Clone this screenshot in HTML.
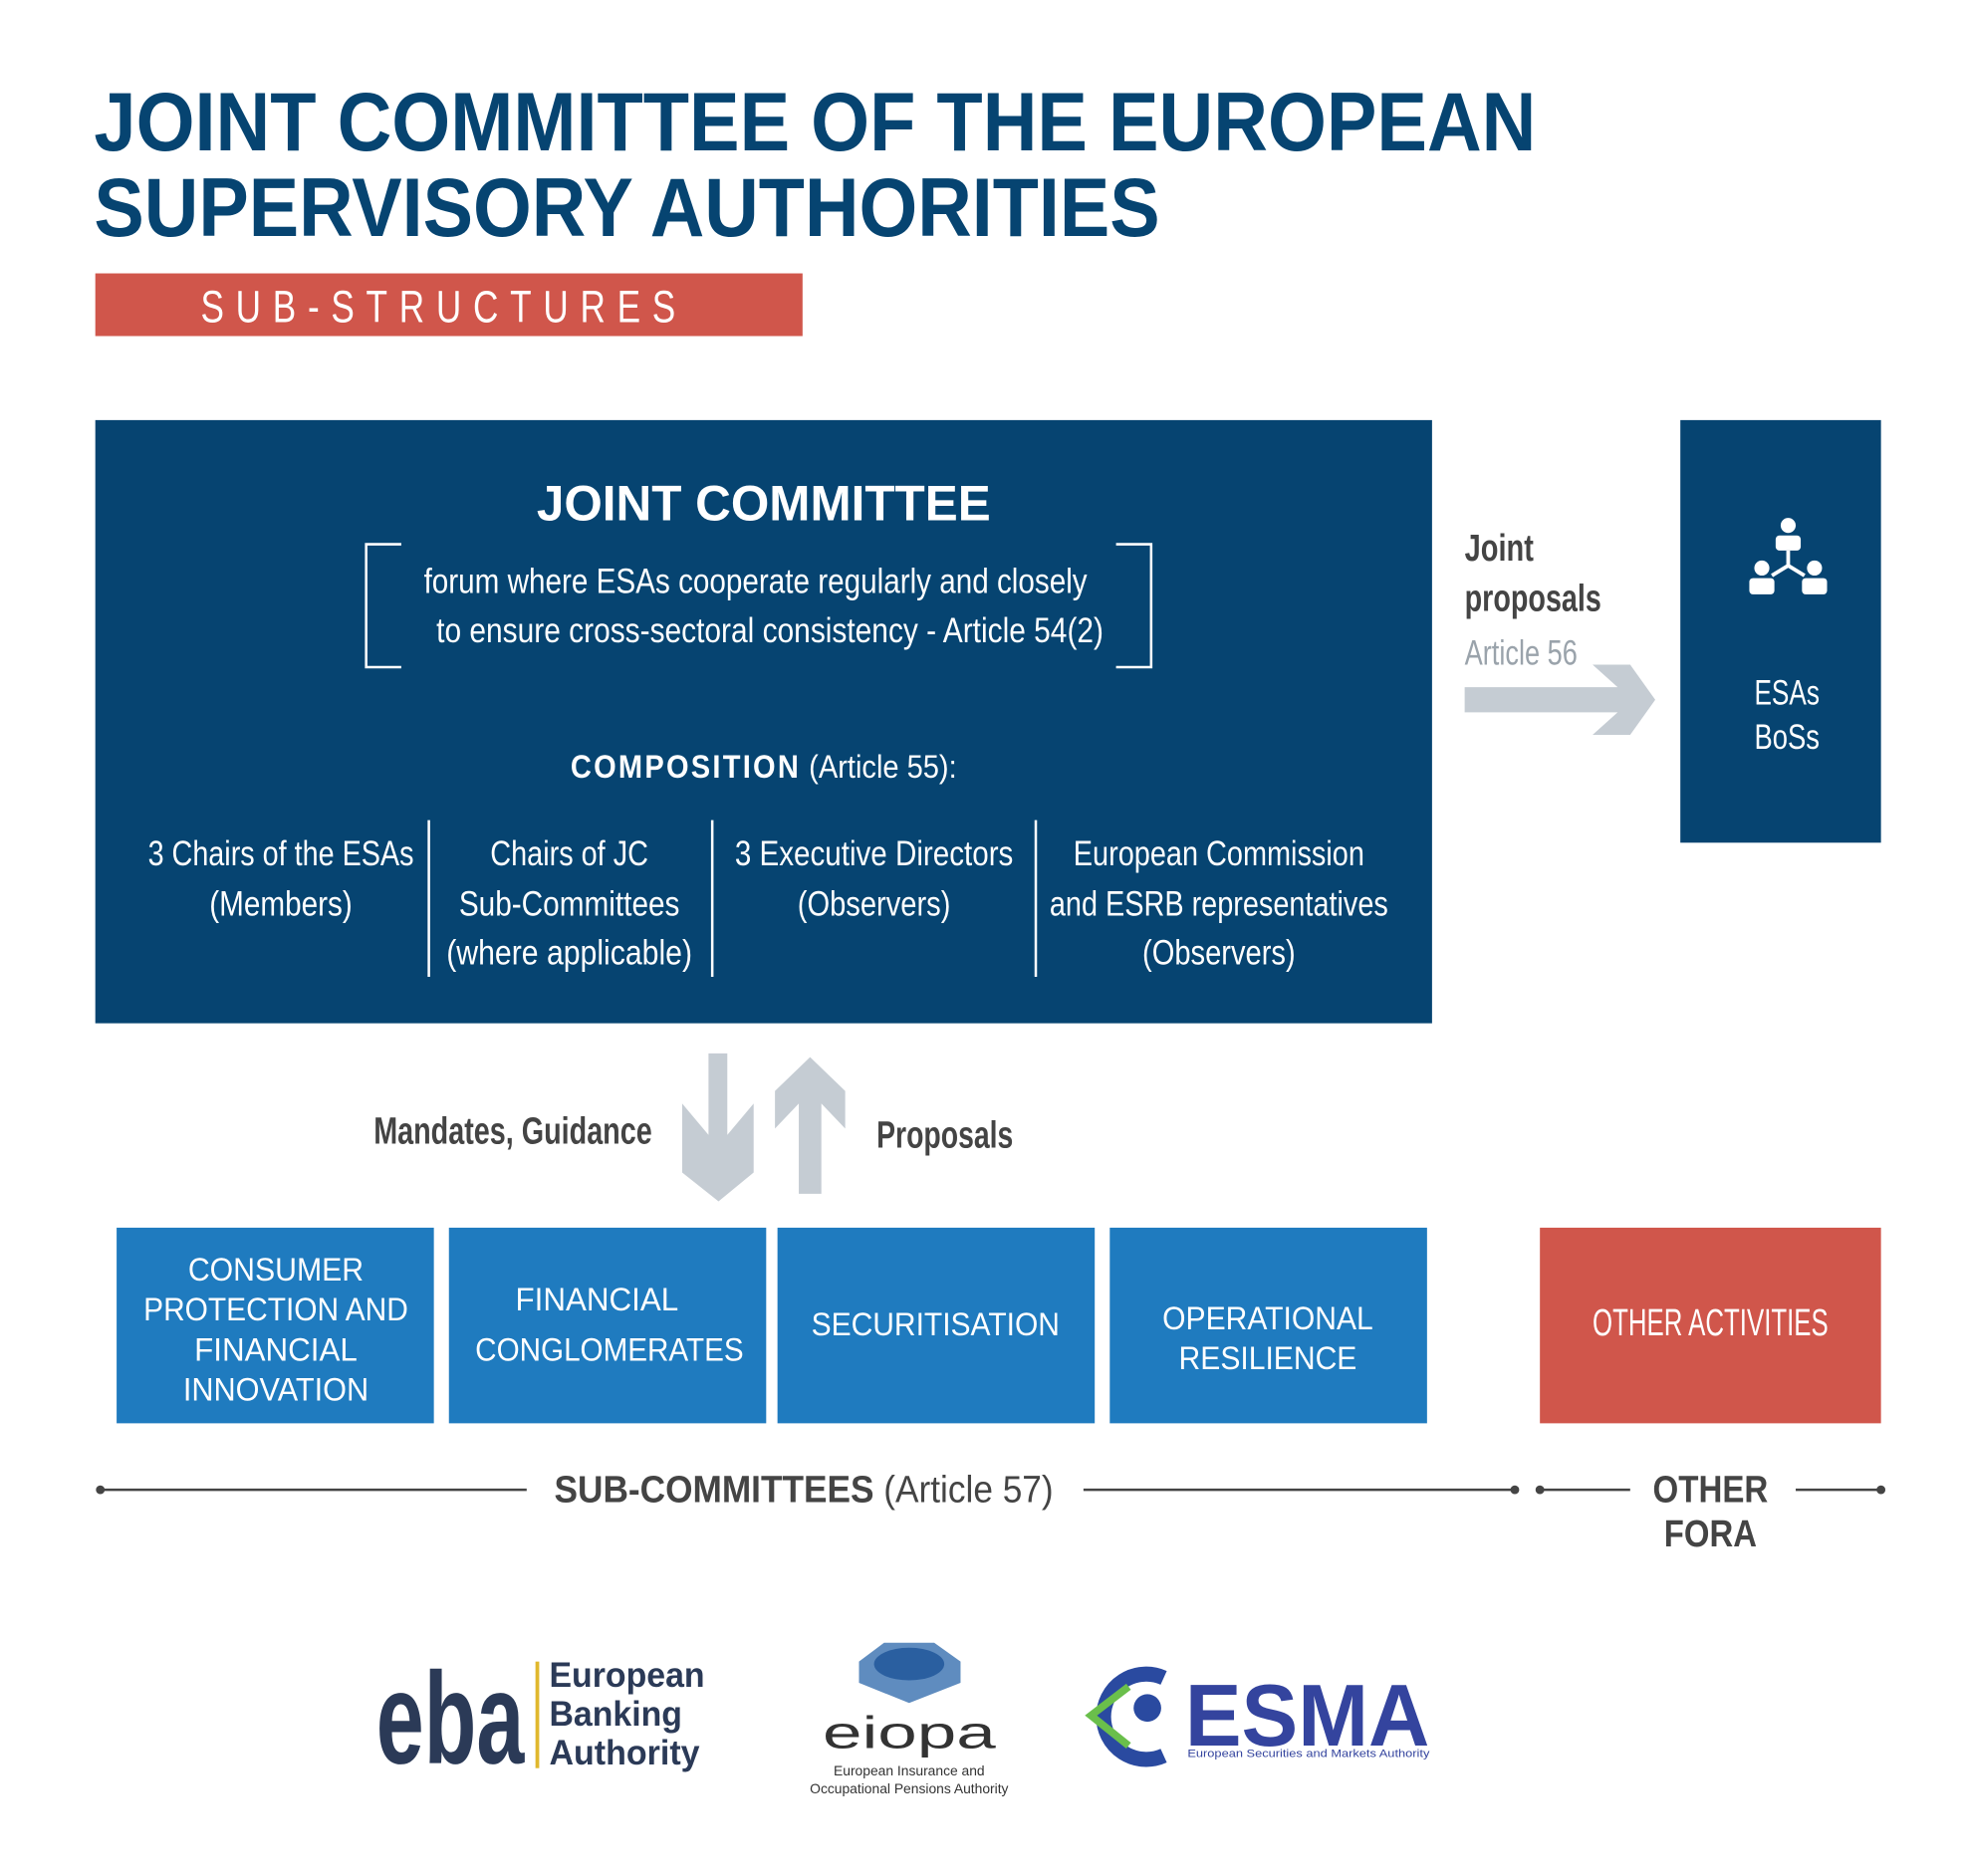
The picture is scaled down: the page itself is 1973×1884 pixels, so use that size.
<!DOCTYPE html>
<html><head><meta charset="utf-8"><style>
html,body{margin:0;padding:0;background:#fff;}
svg{display:block;}
text{font-family:"Liberation Sans Narrow","Liberation Sans",sans-serif;}
</style></head><body>
<svg width="1973" height="1884" viewBox="0 0 1567 1496" preserveAspectRatio="none" xmlns="http://www.w3.org/2000/svg">
<rect width="1567" height="1496" fill="#fff"/>
<g fill="#064471" font-weight="bold" font-size="66">
<text x="75" y="120" textLength="1150" lengthAdjust="spacingAndGlyphs">JOINT COMMITTEE OF THE EUROPEAN</text>
<text x="75" y="188" textLength="850" lengthAdjust="spacingAndGlyphs">SUPERVISORY AUTHORITIES</text>
</g>
<rect x="76" y="218" width="564" height="50" fill="#d0564b"/>
<text x="160" y="257" fill="#fff" font-size="36" textLength="388" lengthAdjust="spacingAndGlyphs" letter-spacing="12">SUB-STRUCTURES</text>

<rect x="76" y="335" width="1066" height="481" fill="#064471"/>
<g fill="#fff">
<text x="609" y="415" font-size="40" font-weight="bold" text-anchor="middle" textLength="362" lengthAdjust="spacingAndGlyphs">JOINT COMMITTEE</text>
<text x="338" y="473" font-size="28" textLength="529" lengthAdjust="spacingAndGlyphs">forum where ESAs cooperate regularly and closely</text>
<text x="348" y="512" font-size="28" textLength="532" lengthAdjust="spacingAndGlyphs">to ensure cross-sectoral consistency - Article 54(2)</text>
<text x="455" y="620" font-size="26" textLength="308" lengthAdjust="spacingAndGlyphs"><tspan font-weight="bold" letter-spacing="2">COMPOSITION</tspan> (Article 55):</text>
<g font-size="28" text-anchor="middle">
<text x="224" y="690" textLength="212" lengthAdjust="spacingAndGlyphs">3 Chairs of the ESAs</text>
<text x="224" y="730" textLength="114" lengthAdjust="spacingAndGlyphs">(Members)</text>
<text x="454" y="690" textLength="126" lengthAdjust="spacingAndGlyphs">Chairs of JC</text>
<text x="454" y="730" textLength="176" lengthAdjust="spacingAndGlyphs">Sub-Committees</text>
<text x="454" y="769" textLength="196" lengthAdjust="spacingAndGlyphs">(where applicable)</text>
<text x="697" y="690" textLength="222" lengthAdjust="spacingAndGlyphs">3 Executive Directors</text>
<text x="697" y="730" textLength="122" lengthAdjust="spacingAndGlyphs">(Observers)</text>
<text x="972" y="690" textLength="232" lengthAdjust="spacingAndGlyphs">European Commission</text>
<text x="972" y="730" textLength="270" lengthAdjust="spacingAndGlyphs">and ESRB representatives</text>
<text x="972" y="769" textLength="122" lengthAdjust="spacingAndGlyphs">(Observers)</text>
</g>
</g>
<g stroke="#fff" stroke-width="2" fill="none">
<path d="M320 434H292V532H320"/>
<path d="M890 434H918V532H890"/>
<line x1="342" y1="654" x2="342" y2="779"/>
<line x1="568" y1="654" x2="568" y2="779"/>
<line x1="826" y1="654" x2="826" y2="779"/>
</g>

<g fill="#444" font-weight="bold" font-size="30">
<text x="1168" y="447" textLength="55" lengthAdjust="spacingAndGlyphs">Joint</text>
<text x="1168" y="487" textLength="109" lengthAdjust="spacingAndGlyphs">proposals</text>
</g>
<text x="1168" y="530" fill="#9aa3ab" font-size="28" textLength="90" lengthAdjust="spacingAndGlyphs">Article 56</text>
<polygon points="1168,548 1290,548 1270,530 1300,530 1320,558 1300,586 1270,586 1290,568 1168,568" fill="#c5ccd3"/>
<rect x="1340" y="335" width="160" height="337" fill="#064471"/>
<g fill="#fff">
<circle cx="1426" cy="419" r="6"/><rect x="1416" y="427" width="20" height="12" rx="3"/>
<circle cx="1405" cy="453" r="6"/><rect x="1395" y="461" width="20" height="13" rx="3"/>
<circle cx="1447" cy="453" r="6"/><rect x="1437" y="461" width="20" height="13" rx="3"/>
<path d="M1426 439V451M1426 451L1413 459M1426 451L1439 459" stroke="#fff" stroke-width="3" fill="none"/>
<text x="1425" y="562" font-size="28" text-anchor="middle" textLength="52" lengthAdjust="spacingAndGlyphs">ESAs</text>
<text x="1425" y="597" font-size="28" text-anchor="middle" textLength="52" lengthAdjust="spacingAndGlyphs">BoSs</text>
</g>

<polygon points="565,840 580,840 580,905 601,880 601,935 573,958 544,935 544,880 565,905" fill="#c5ccd3"/>
<polygon points="637,952 655,952 655,880 674,900 674,870 646,843 618,870 618,900 637,880" fill="#c5ccd3"/>
<g fill="#444" font-weight="bold" font-size="30">
<text x="520" y="912" text-anchor="end" textLength="222" lengthAdjust="spacingAndGlyphs">Mandates, Guidance</text>
<text x="699" y="915" textLength="109" lengthAdjust="spacingAndGlyphs">Proposals</text>
</g>

<g fill="#1f7bbf">
<rect x="93" y="979" width="253" height="156"/>
<rect x="358" y="979" width="253" height="156"/>
<rect x="620" y="979" width="253" height="156"/>
<rect x="885" y="979" width="253" height="156"/>
</g>
<rect x="1228" y="979" width="272" height="156" fill="#d0564b"/>
<g fill="#fff" font-size="26" text-anchor="middle">
<text x="220" y="1021" textLength="140" lengthAdjust="spacingAndGlyphs">CONSUMER</text>
<text x="220" y="1053" textLength="211" lengthAdjust="spacingAndGlyphs">PROTECTION AND</text>
<text x="220" y="1085" textLength="130" lengthAdjust="spacingAndGlyphs">FINANCIAL</text>
<text x="220" y="1117" textLength="148" lengthAdjust="spacingAndGlyphs">INNOVATION</text>
<text x="476" y="1045" textLength="130" lengthAdjust="spacingAndGlyphs">FINANCIAL</text>
<text x="486" y="1085" textLength="214" lengthAdjust="spacingAndGlyphs">CONGLOMERATES</text>
<text x="746" y="1065" textLength="198" lengthAdjust="spacingAndGlyphs">SECURITISATION</text>
<text x="1011" y="1060" textLength="168" lengthAdjust="spacingAndGlyphs">OPERATIONAL</text>
<text x="1011" y="1092" textLength="142" lengthAdjust="spacingAndGlyphs">RESILIENCE</text>
<text x="1364" y="1065" font-size="30" textLength="188" lengthAdjust="spacingAndGlyphs">OTHER ACTIVITIES</text>
</g>

<g stroke="#444" stroke-width="2">
<line x1="80" y1="1188" x2="420" y2="1188"/>
<line x1="864" y1="1188" x2="1208" y2="1188"/>
<line x1="1228" y1="1188" x2="1300" y2="1188"/>
<line x1="1432" y1="1188" x2="1500" y2="1188"/>
</g>
<g fill="#444"><circle cx="80" cy="1188" r="3.5"/><circle cx="1208" cy="1188" r="3.5"/><circle cx="1228" cy="1188" r="3.5"/><circle cx="1500" cy="1188" r="3.5"/></g>
<text x="442" y="1198" fill="#444" font-size="30" textLength="398" lengthAdjust="spacingAndGlyphs"><tspan font-weight="bold">SUB-COMMITTEES</tspan> (Article 57)</text>
<g fill="#444" font-weight="bold" font-size="30" text-anchor="middle">
<text x="1364" y="1198" textLength="92" lengthAdjust="spacingAndGlyphs">OTHER</text>
<text x="1364" y="1233" textLength="74" lengthAdjust="spacingAndGlyphs">FORA</text>
</g>

<text x="300" y="1406" fill="#2b3a57" font-size="104" font-weight="bold" textLength="118" lengthAdjust="spacingAndGlyphs">eba</text>
<rect x="427" y="1325" width="3" height="85" fill="#e0b82d"/>
<g fill="#2b3a57" font-size="28" font-weight="bold">
<text x="438" y="1345" textLength="124" lengthAdjust="spacingAndGlyphs">European</text>
<text x="438" y="1376" textLength="106" lengthAdjust="spacingAndGlyphs">Banking</text>
<text x="438" y="1407" textLength="120" lengthAdjust="spacingAndGlyphs">Authority</text>
</g>
<polygon points="685,1325 705,1310 745,1310 766,1325 766,1342 725,1358 685,1342" fill="#5f8cbf"/>
<ellipse cx="725" cy="1327" rx="28" ry="13" fill="#2a5fa0"/>
<text x="725" y="1394" fill="#333" font-size="36" text-anchor="middle" textLength="138" lengthAdjust="spacingAndGlyphs">eiopa</text>
<g fill="#333" font-size="11" text-anchor="middle">
<text x="725" y="1416">European Insurance and</text>
<text x="725" y="1430">Occupational Pensions Authority</text>
</g>
<path d="M928 1338 A34 34 0 1 0 928 1400" stroke="#2a4aa0" stroke-width="12" fill="none"/>
<path d="M900 1345 L870 1368 L900 1392" stroke="#6abf4b" stroke-width="6" fill="none"/>
<circle cx="915" cy="1362" r="11" fill="#2a4aa0"/>
<text x="945" y="1392" fill="#34449e" font-size="70" font-weight="bold" textLength="195" lengthAdjust="spacingAndGlyphs">ESMA</text>
<text x="947" y="1401" fill="#34449e" font-size="9" textLength="193" lengthAdjust="spacingAndGlyphs">European Securities and Markets Authority</text>
</svg>
</body></html>
